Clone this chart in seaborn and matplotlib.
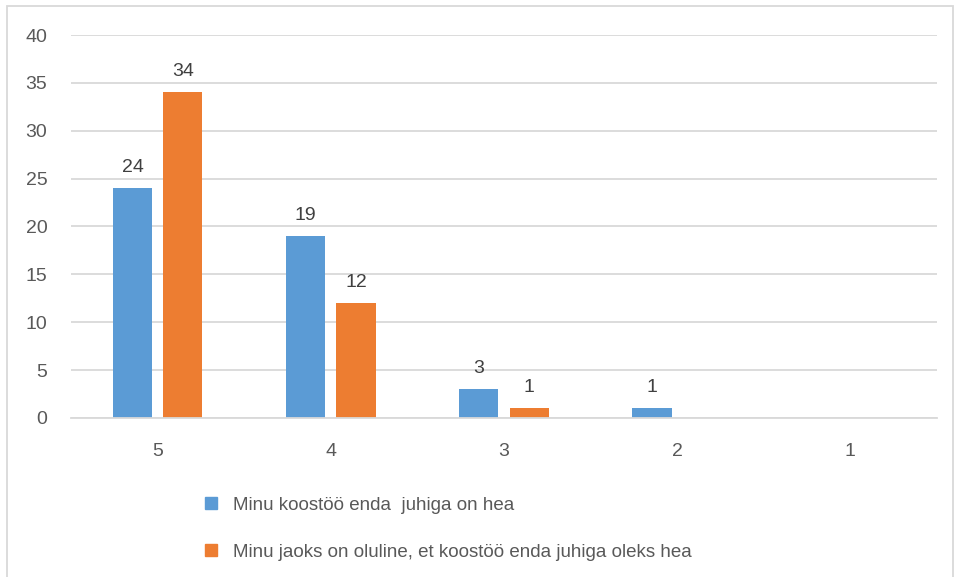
import matplotlib
matplotlib.use("Agg")
import matplotlib.pyplot as plt
import seaborn as sns
import pandas as pd
from matplotlib.patches import Rectangle
from matplotlib.lines import Line2D

# Survey answers on a 5..1 scale
categories = ["5", "4", "3", "2", "1"]
series_names = [
    "Minu koostöö enda  juhiga on hea",
    "Minu jaoks on oluline, et koostöö enda juhiga oleks hea",
]
current_values = [24, 19, 3, 1, 0]
importance_values = [34, 12, 1, 0, 0]
y_ticks = [0, 5, 10, 15, 20, 25, 30, 35, 40]

colors = ["#5B9BD5", "#ED7D31"]
text_color = "#595959"
grid_color = "#D9D9D9"

df = pd.DataFrame({
    "kategooria": categories * 2,
    "vastus": current_values + importance_values,
    "seeria": [series_names[0]] * len(categories) + [series_names[1]] * len(categories),
})

sns.set_theme(style="white")
plt.rcParams["font.family"] = ["Liberation Sans", "DejaVu Sans"]

fig = plt.figure(figsize=(9.55, 5.77), dpi=100)
ax = fig.add_axes([71 / 955, 1 - 418 / 577, (937 - 71) / 955, (418 - 35) / 577])

sns.barplot(
    data=df, x="kategooria", y="vastus", hue="seeria",
    order=categories, hue_order=series_names, palette=colors,
    width=0.58, gap=0.22, saturation=1, ax=ax, legend=False,
    linewidth=0,
)

# Value labels above non-zero bars
for container in ax.containers:
    labels = [f"{v:g}" if v > 0 else "" for v in container.datavalues]
    ax.bar_label(container, labels=labels, padding=9, fontsize=14, color="#404040")

ax.set_ylim(0, 40)
ax.set_yticks(y_ticks)
ax.set_xlim(-0.5, len(categories) - 0.5)
ax.set_xlabel("")
ax.set_ylabel("")
ax.grid(axis="y", color=grid_color, linewidth=1.3)
ax.set_axisbelow(True)
for side in ["top", "right", "left"]:
    ax.spines[side].set_visible(False)
ax.spines["bottom"].set_color(grid_color)
ax.spines["bottom"].set_linewidth(1.3)
ax.tick_params(axis="y", length=0, pad=17, labelsize=14, labelcolor=text_color)
ax.tick_params(axis="x", length=0, pad=18, labelsize=14, labelcolor=text_color)

# Legend below the plot area
handles = [
    Line2D([], [], marker="s", linestyle="none", markersize=9,
           markerfacecolor=c, markeredgecolor=c)
    for c in colors
]
fig.legend(
    handles, series_names, loc="upper left",
    bbox_to_anchor=(192 / 955, 1 - 487 / 577),
    frameon=False, fontsize=13.5, labelcolor=text_color,
    handlelength=1.0, handletextpad=0.7, labelspacing=1.6, borderpad=0,
)

# Chart area border
fig.patches.append(Rectangle(
    (6.5 / 955, -0.01), (953 - 6.5) / 955, 1 - 5.5 / 577 + 0.01,
    transform=fig.transFigure, fill=False, edgecolor=grid_color, linewidth=1.3,
))

fig.savefig("out.png", dpi=100)
